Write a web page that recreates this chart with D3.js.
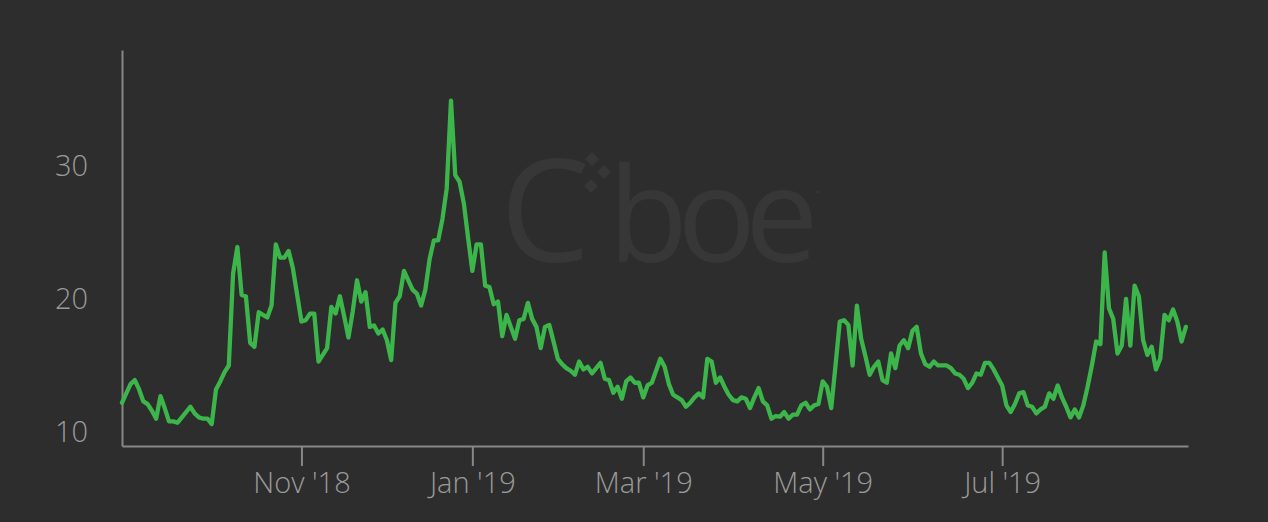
<!DOCTYPE html>
<html>
<head>
<meta charset="utf-8">
<script src="https://cdn.jsdelivr.net/npm/d3@7"></script>
<style>
  html, body { margin: 0; padding: 0; background: #2d2d2d; }
  svg { display: block; }
</style>
</head>
<body>
<svg id="chart" width="1268" height="522"></svg>
<script>
// ---- data (daily index values, trading days) ----
const values = [
  12.2, 12.9, 13.6, 13.9, 13.2, 12.3, 12.1, 11.6, 11.0, 12.7,
  11.8, 10.8, 10.8, 10.7, 11.1, 11.5, 11.9, 11.4, 11.1, 11.0,
  11.0, 10.6, 13.2, 13.8, 14.5, 15.0, 21.9, 23.9, 20.3, 20.2,
  16.7, 16.4, 19.0, 18.8, 18.6, 19.5, 24.1, 23.1, 23.1, 23.6,
  22.3, 20.3, 18.3, 18.4, 18.9, 18.9, 15.3, 15.8, 16.3, 19.4,
  18.9, 20.2, 18.7, 17.1, 19.05, 21.4, 19.8, 20.5, 17.9, 18.0,
  17.4, 17.7, 16.9, 15.4, 19.7, 20.2, 22.1, 21.4, 20.7, 20.4,
  19.5, 20.7, 23.0, 24.4, 24.4, 26.0, 28.3, 34.9, 29.3, 28.8,
  27.2, 24.6, 22.1, 24.1, 24.1, 21.0, 20.9, 19.6, 19.8, 17.2,
  18.8, 17.9, 17.0, 18.4, 18.5, 19.7, 18.5, 17.9, 16.3, 17.9,
  18.05, 16.8, 15.5, 15.1, 14.8, 14.6, 14.3, 15.3, 14.7, 14.9,
  14.4, 14.8, 15.2, 14.0, 13.9, 12.95, 13.4, 12.5, 13.8, 14.1,
  13.7, 13.7, 12.6, 13.5, 13.7, 14.6, 15.5, 14.9, 13.6, 12.8,
  12.6, 12.4, 11.9, 12.2, 12.6, 12.9, 12.6, 15.5, 15.3, 13.7,
  14.1, 13.4, 12.8, 12.4, 12.3, 12.6, 12.5, 11.8, 12.6, 13.3,
  12.3, 12.0, 11.0, 11.2, 11.15, 11.5, 11.0, 11.3, 11.3, 12.0,
  12.2, 11.7, 12.0, 12.1, 13.8, 13.4, 11.8, 15.0, 18.3, 18.4,
  18.05, 15.0, 19.5, 17.0, 15.7, 14.3, 14.9, 15.3, 13.9, 13.7,
  15.9, 14.8, 16.5, 16.9, 16.3, 17.6, 17.9, 15.9, 15.1, 14.9,
  15.3, 15.0, 15.0, 15.0, 14.8, 14.4, 14.3, 14.0, 13.3, 13.7,
  14.4, 14.3, 15.2, 15.2, 14.7, 14.1, 13.5, 12.0, 11.5, 12.1,
  12.9, 13.0, 12.0, 11.9, 11.4, 11.7, 11.9, 12.9, 12.5, 13.5,
  12.6, 11.9, 11.1, 11.7, 11.1, 12.0, 13.4, 15.0, 16.8, 16.6,
  23.5, 19.3, 18.5, 15.9, 16.5, 20.0, 16.5, 21.0, 20.2, 16.9,
  15.8, 16.4, 14.7, 15.5, 18.8, 18.4, 19.2, 18.3, 16.8, 17.9
];
// trading-day index where each month tick sits
const tickIndex = [42, 82, 122, 164, 206];
const tickLabels = ["Nov '18", "Jan '19", "Mar '19", "May '19", "Jul '19"];
const yTicks = [10, 20, 30];
const yDomain = [8.95, 38.7];

// ---- layout ----
const svg = d3.select("#chart");
const mLeft = 122, mRight = 1188, mTop = 50, mBottom = 446;

const x = d3.scaleLinear().domain([0, 249.5]).range([mLeft, mRight]);
const y = d3.scaleLinear().domain(yDomain).range([mBottom, mTop]);

// background
svg.append("rect").attr("width", 1268).attr("height", 522).attr("fill", "#2d2d2d");

// watermark
const wm = svg.append("g").attr("fill", "#373737");
wm.append("text")
  .attr("x", 500).attr("y", 262)
  .attr("font-family", "'Open Sans', sans-serif")
  .attr("font-size", 143)
  .text("C");
wm.append("text")
  .attr("x", 608).attr("y", 262)
  .attr("font-family", "'Open Sans', sans-serif")
  .attr("font-size", 131)
  .attr("letter-spacing", -11)
  .text("boe");
const dia = [[592, 159], [604, 172], [591, 186]];
wm.selectAll("path.d").data(dia).enter().append("path")
  .attr("d", d => `M${d[0]},${d[1]-7}L${d[0]+7},${d[1]}L${d[0]},${d[1]+7}L${d[0]-7},${d[1]}Z`);
wm.append("circle").attr("cx", 818).attr("cy", 192).attr("r", 1.5);

// axes
const axisColor = "#878787";
const labelColor = "#9a9a9a";

const yAxis = d3.axisLeft(y).tickValues(yTicks).tickSize(0).tickSizeOuter(0).tickPadding(34);
const gy = svg.append("g").attr("transform", `translate(${mLeft},0)`).call(yAxis);
gy.select(".domain").attr("stroke", axisColor).attr("stroke-width", 2);
gy.selectAll("text").attr("fill", labelColor)
  .attr("font-family", "'Open Sans', sans-serif").attr("font-size", 29).attr("font-weight", 300);

const xAxis = d3.axisBottom(x).tickValues(tickIndex)
  .tickFormat((d, i) => tickLabels[i]).tickSize(20).tickSizeOuter(0).tickPadding(6);
const gx = svg.append("g").attr("transform", `translate(0,${mBottom})`).call(xAxis);
gx.select(".domain").attr("stroke", axisColor).attr("stroke-width", 2);
gx.selectAll(".tick line").attr("stroke", axisColor).attr("stroke-width", 2);
gx.selectAll("text").attr("fill", labelColor)
  .attr("font-family", "'Open Sans', sans-serif").attr("font-size", 29).attr("font-weight", 300);

// line
const line = d3.line().x((d, i) => x(i)).y(d => y(d));
svg.append("path")
  .datum(values)
  .attr("d", line)
  .attr("fill", "none")
  .attr("stroke", "#3cb64b")
  .attr("stroke-width", 4.3)
  .attr("stroke-linejoin", "round")
  .attr("stroke-linecap", "round");
</script>
</body>
</html>
